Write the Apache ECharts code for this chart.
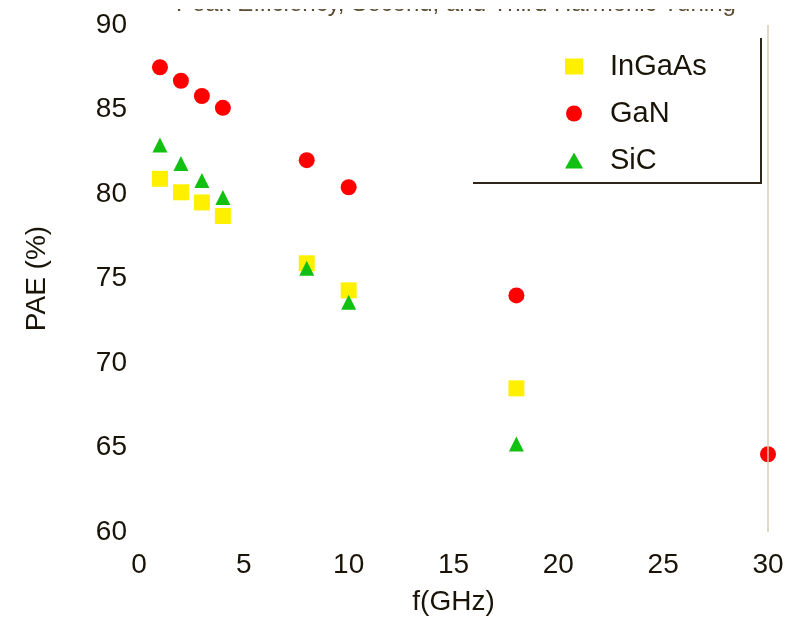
<!DOCTYPE html>
<html>
<head>
<meta charset="utf-8">
<script src="https://cdn.jsdelivr.net/npm/echarts@6/dist/echarts.min.js"></script>
<style>html,body{margin:0;padding:0;background:#fff;}#c{width:798px;height:618px;}</style>
</head>
<body>
<div id="c"></div>
<script>
const titleText = 'Peak Efficiency, Second, and Third Harmonic Tuning';
const xTicks = [0, 5, 10, 15, 20, 25, 30];
const yTicks = [60, 65, 70, 75, 80, 85, 90];
const seriesNames = ['InGaAs', 'GaN', 'SiC'];
const ingaasF = [1, 2, 3, 4, 8, 10, 18];
const ingaasPAE = [80.9, 80.1, 79.5, 78.7, 75.9, 74.3, 68.5];
const ganF = [1, 2, 3, 4, 8, 10, 18, 30];
const ganPAE = [87.5, 86.7, 85.8, 85.1, 82.0, 80.4, 74.0, 64.6];
const sicF = [1, 2, 3, 4, 8, 10, 18];
const sicPAE = [82.9, 81.8, 80.8, 79.8, 75.6, 73.6, 65.2];

const zip = (a, b) => a.map((v, i) => [v, b[i]]);
const font = 'Liberation Sans, Arial, Helvetica, sans-serif';
const txt = '#1a1408';
const chart = echarts.init(document.getElementById('c'));
chart.setOption({
  animation: false,
  backgroundColor: '#ffffff',
  title: {
    text: titleText, left: 171, top: -13,
    textStyle: { fontFamily: font, fontSize: 24, fontWeight: 'normal', color: '#5a4a30' }
  },
  grid: { left: 139, right: 30, top: 25, bottom: 86, containLabel: false, outerBoundsMode: 'none' },
  legend: {
    orient: 'vertical', left: 560, top: 47, itemGap: 18,
    itemWidth: 18, itemHeight: 16,
    data: seriesNames,
    textStyle: { fontFamily: font, fontSize: 29, color: txt, padding: [0, 0, 0, 22] }
  },
  xAxis: {
    type: 'value', min: xTicks[0], max: xTicks[xTicks.length - 1], interval: 5,
    name: 'f(GHz)', nameLocation: 'middle', nameGap: 56,
    nameTextStyle: { fontFamily: font, fontSize: 28, color: txt },
    axisLine: { show: false }, axisTick: { show: false }, splitLine: { show: false },
    axisLabel: { fontFamily: font, fontSize: 28, color: txt, margin: 19 }
  },
  yAxis: {
    type: 'value', min: yTicks[0], max: yTicks[yTicks.length - 1], interval: 5,
    name: 'PAE (%)', nameLocation: 'middle', nameGap: 88, nameRotate: 90,
    nameTextStyle: { fontFamily: font, fontSize: 28, color: txt },
    axisLine: { show: false }, axisTick: { show: false }, splitLine: { show: false },
    axisLabel: { fontFamily: font, fontSize: 28, color: txt, margin: 12 }
  },
  series: [
    {
      name: seriesNames[0], type: 'scatter', symbol: 'rect', symbolSize: 16,
      itemStyle: { color: '#fff000', opacity: 1 }, data: zip(ingaasF, ingaasPAE), z: 3,
      markLine: {
        silent: true, symbol: 'none', label: { show: false },
        lineStyle: { color: '#d9cbb5', width: 1.5, type: 'solid' },
        data: [{ xAxis: 30 }]
      }
    },
    {
      name: seriesNames[1], type: 'scatter', symbol: 'circle', symbolSize: 16,
      itemStyle: { color: '#ff0000', opacity: 1 }, data: zip(ganF, ganPAE), z: 4
    },
    {
      name: seriesNames[2], type: 'scatter', symbol: 'triangle', symbolSize: 15,
      itemStyle: { color: '#11c011', opacity: 1 }, data: zip(sicF, sicPAE), z: 5
    }
  ],
  graphic: [
    {
      type: 'rect', silent: true, z: 100,
      shape: { x: 150, y: 0, width: 620, height: 9 },
      style: { fill: '#ffffff' }
    },
    {
      type: 'polyline', silent: true,
      shape: { points: [[473, 183], [761, 183], [761, 38]] },
      style: { stroke: '#2e2618', lineWidth: 2, fill: null }
    }
  ]
});
</script>
</body>
</html>
